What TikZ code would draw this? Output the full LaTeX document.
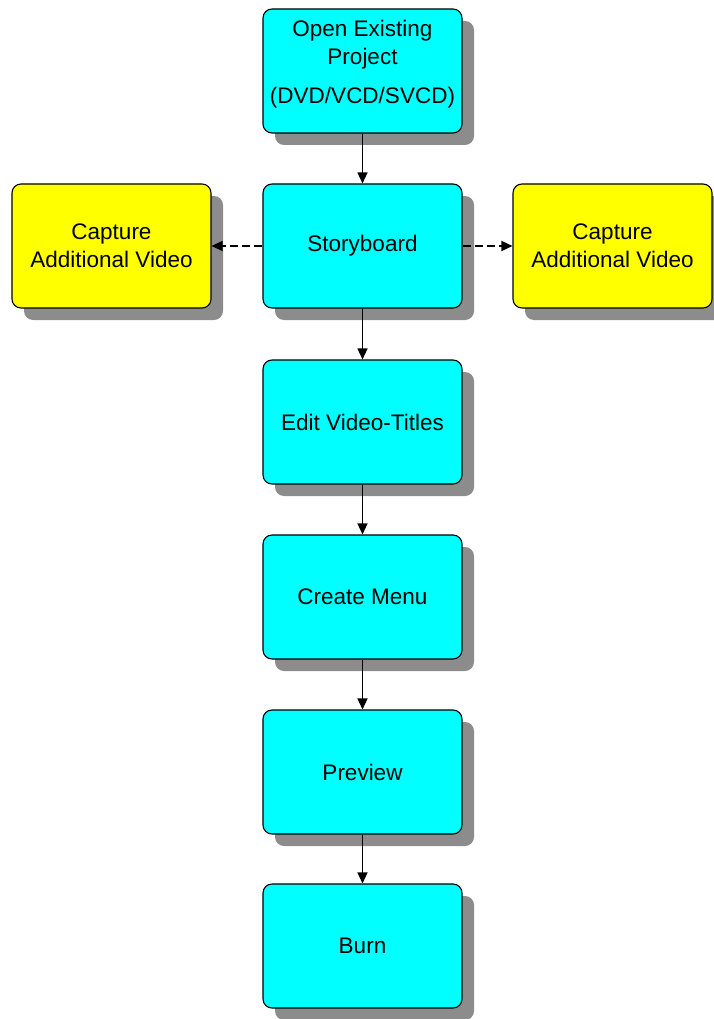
\documentclass[tikz,border=0pt]{standalone}
\usepackage{fontspec}
\setmainfont{Liberation Sans}
\usepackage{tikz}
\usetikzlibrary{arrows.meta,shadows}
\definecolor{wfink}{HTML}{000000}
\definecolor{wfstep}{HTML}{00FFFF}
\definecolor{wfcapture}{HTML}{FFFF00}
\definecolor{wfshadow}{HTML}{8C8C8C}
\tikzset{
  wfbox/.style={
    draw=wfink,
    rounded corners=9pt,
    line width=1.1pt,
    align=center,
    minimum width=199pt,
    minimum height=124pt,
    inner sep=0pt,
    font=\fontsize{22.5}{28}\selectfont,
    text=wfink,
    general shadow={fill=wfshadow, shadow xshift=12pt, shadow yshift=-12pt}
  },
  wfstepbox/.style={wfbox, fill=wfstep},
  wfcapbox/.style={wfbox, fill=wfcapture},
  wfedge/.style={
    -{Triangle[length=11pt,width=10pt]},
    line width=1.3pt,
    color=wfink
  },
  wfoptional/.style={wfedge, dash pattern=on 8pt off 4pt}
}
\begin{document}
\begin{tikzpicture}[x=1pt,y=-1pt]
  \useasboundingbox (0,0) rectangle (714,1019);

  \node[wfstepbox] (open) at (362.5,71) {%
    Open Existing\\Project\\[11pt](DVD/VCD/SVCD)\\[-9pt]\mbox{}%
  };
  \node[wfstepbox] (story) at (362.5,246) {Storyboard};
  \node[wfcapbox] (capleft) at (111.5,246) {Capture\\Additional Video};
  \node[wfcapbox] (capright) at (612.5,246) {Capture\\Additional Video};
  \node[wfstepbox] (edit) at (362.5,422) {Edit Video-Titles};
  \node[wfstepbox] (menu) at (362.5,597) {Create Menu};
  \node[wfstepbox] (preview) at (362.5,772) {Preview};
  \node[wfstepbox] (burn) at (362.5,946) {Burn};

  \draw[wfedge] (open.south) -- (story.north);
  \draw[wfoptional] (story.west) -- (capleft.east);
  \draw[wfoptional] (story.east) -- (capright.west);
  \draw[wfedge] (story.south) -- (edit.north);
  \draw[wfedge] (edit.south) -- (menu.north);
  \draw[wfedge] (menu.south) -- (preview.north);
  \draw[wfedge] (preview.south) -- (burn.north);
\end{tikzpicture}
\end{document}
